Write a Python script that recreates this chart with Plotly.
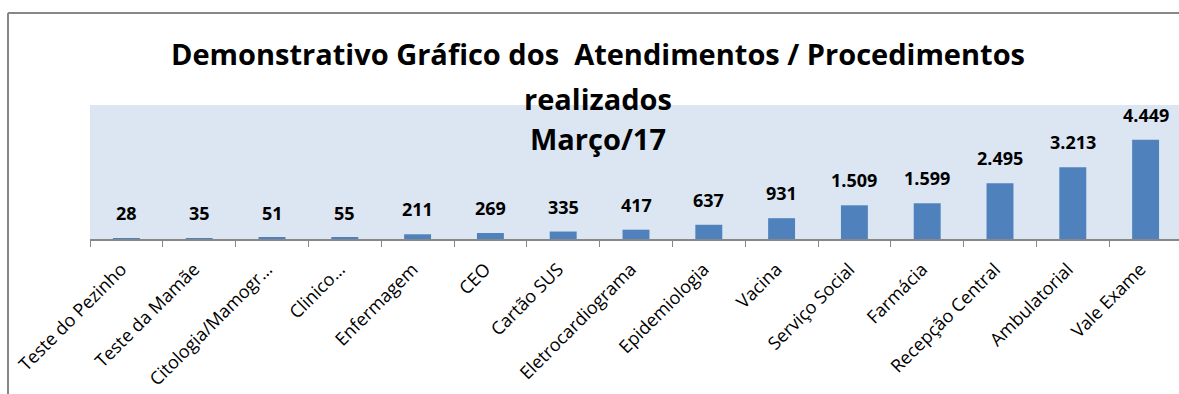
import plotly.graph_objects as go

# Atendimentos / procedimentos realizados por setor - Março/17
categorias = [
    "Teste do Pezinho", "Teste da Mamãe", "Citologia/Mamogr…", "Clinico…",
    "Enfermagem", "CEO", "Cartão SUS", "Eletrocardiograma", "Epidemiologia",
    "Vacina", "Serviço Social", "Farmácia", "Recepção Central", "Ambulatorial",
    "Vale Exame",
]
atendimentos = [28, 35, 51, 55, 211, 269, 335, 417, 637, 931, 1509, 1599, 2495, 3213, 4449]
titulo_linhas = [
    "Demonstrativo Gráfico dos\u00a0 Atendimentos / Procedimentos",
    "realizados",
    "Março/17",
]

W, H = 1179, 394
ML, MR, MT, MB = 90, 0, 105, 155
plot_w = W - ML - MR
plot_h = H - MT - MB
cat_w = 72.8
FONT = "Open Sans"


def px_x(px):
    return (px - ML) / plot_w


def px_y(py):
    return (H - MB - py) / plot_h


def fmt(v):
    return f"{v:,}".replace(",", ".")


fig = go.Figure(
    go.Bar(
        x=categorias,
        y=atendimentos,
        marker=dict(color="#4f81bd", line=dict(width=0)),
        width=0.37,
        hoverinfo="x+y",
    )
)

# value labels above each bar
for c, v in zip(categorias, atendimentos):
    fig.add_annotation(
        x=c, y=v, xref="x", yref="y",
        text=f"<b>{fmt(v)}</b>", showarrow=False,
        yanchor="bottom", yshift=11,
        font=dict(family=FONT, size=18, color="#000000"),
    )

# three-line title
for linha, py in zip(titulo_linhas, [54, 98, 138]):
    fig.add_annotation(
        x=px_x(598), y=px_y(py), xref="paper", yref="paper",
        text=f"<b>{linha}</b>", showarrow=False,
        xanchor="center", yanchor="middle",
        font=dict(family=FONT, size=29, color="#000000"),
    )

# chart frame (top and left edges)
frame = dict(color="#878787", width=2)
fig.add_shape(type="line", xref="paper", yref="paper",
              x0=px_x(8), x1=px_x(W + 5), y0=px_y(13), y1=px_y(13), line=frame)
fig.add_shape(type="line", xref="paper", yref="paper",
              x0=px_x(8), x1=px_x(8), y0=px_y(13), y1=px_y(H + 5), line=frame)

fig.update_layout(
    width=W, height=H,
    margin=dict(l=ML, r=MR, t=MT, b=MB, pad=0),
    paper_bgcolor="#ffffff",
    plot_bgcolor="#dce6f2",
    showlegend=False,
    font=dict(family=FONT, color="#000000"),
    xaxis=dict(
        type="category",
        range=[-0.5, -0.5 + plot_w / cat_w],
        showline=True, linecolor="#878787", linewidth=1.5,
        layer="above traces",
        ticks="outside", tickson="boundaries", ticklen=6, tickcolor="#878787",
        tickangle=-45, ticklabelstandoff=11, ticklabelshift=-5,
        tickfont=dict(family=FONT, size=18, color="#000000"),
        showgrid=False, zeroline=False,
    ),
    yaxis=dict(
        range=[0, 6000], visible=False, showgrid=False, zeroline=False,
    ),
)

fig.write_html("out.html")
